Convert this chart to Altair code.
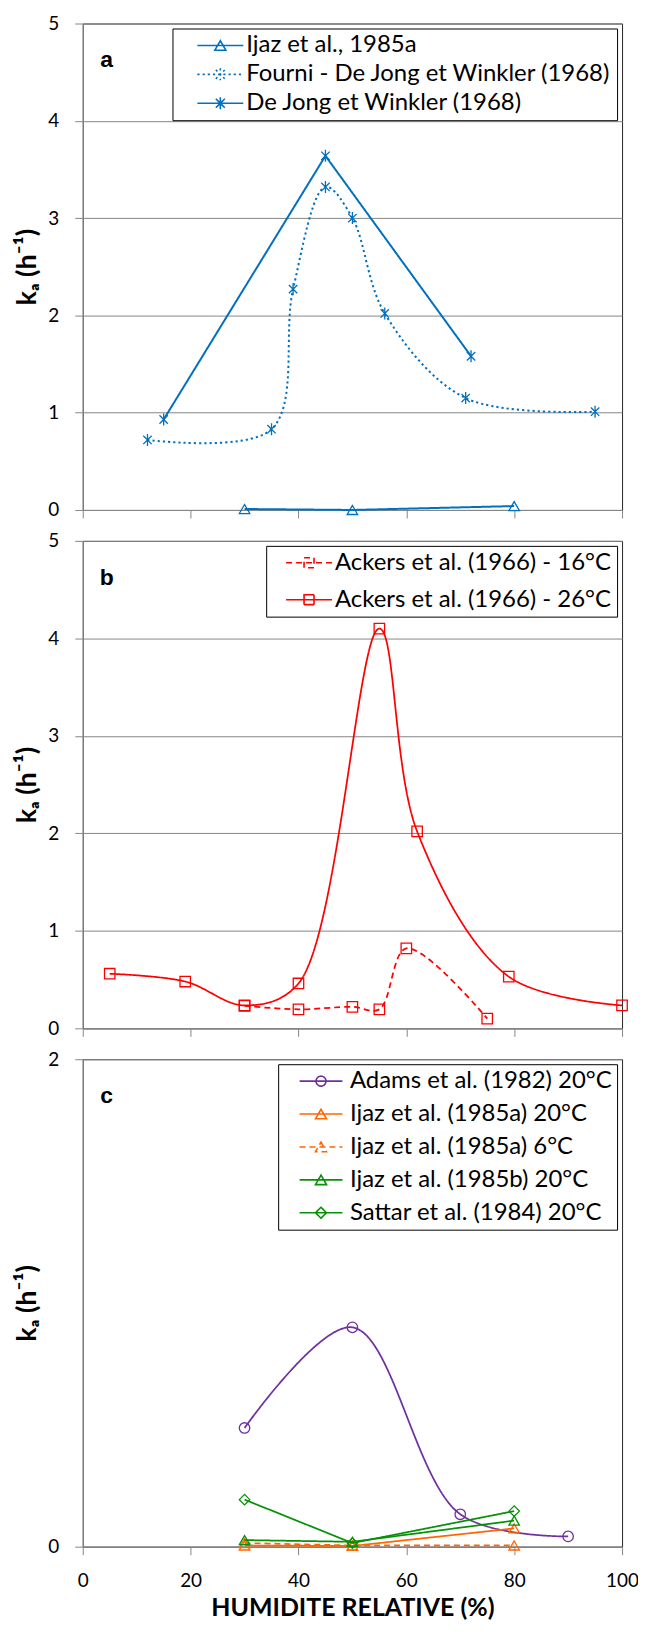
import altair as alt
import pandas as pd

FONT = "Lato"
X_TICKS = [0, 20, 40, 60, 80, 100]
Y_TITLE = "kₐ (h⁻¹)"
X_TITLE = "HUMIDITE RELATIVE (%)"
PANEL_LABELS = ["a", "b", "c"]

# ---------------- Panel a ----------------
A_SERIES = ["Ijaz et al., 1985a",
            "Fourni - De Jong et Winkler (1968)",
            "De Jong et Winkler (1968)"]
A_IJAZ_X = [30, 50, 80]
A_IJAZ_Y = [0.01, 0.0, 0.04]
A_FOURNI_X = [12, 35, 39, 45, 50, 56, 71, 95]
A_FOURNI_Y = [0.72, 0.83, 2.27, 3.32, 3.0, 2.02, 1.15, 1.01]
A_DEJONG_X = [15, 45, 72]
A_DEJONG_Y = [0.93, 3.64, 1.58]
A_YTICKS = [0, 1, 2, 3, 4, 5]

# ---------------- Panel b ----------------
B_SERIES = ["Ackers et al. (1966) - 16°C",
            "Ackers et al. (1966) - 26°C"]
B_16_X = [30, 40, 50, 55, 60, 75]
B_16_Y = [0.23, 0.195, 0.22, 0.195, 0.82, 0.10]
B_26_X = [5, 19, 30, 40, 55, 62, 79, 100]
B_26_Y = [0.56, 0.48, 0.235, 0.46, 4.10, 2.02, 0.53, 0.235]
B_YTICKS = [0, 1, 2, 3, 4, 5]

# ---------------- Panel c ----------------
C_SERIES = ["Adams et al. (1982) 20°C",
            "Ijaz et al. (1985a) 20°C",
            "Ijaz et al. (1985a) 6°C",
            "Ijaz et al. (1985b) 20°C",
            "Sattar et al. (1984) 20°C"]
C_ADAMS_X = [30, 50, 70, 90]
C_ADAMS_Y = [0.487, 0.90, 0.133, 0.042]
C_IJAZA20_X = [30, 50, 80]
C_IJAZA20_Y = [0.005, 0.003, 0.075]
C_IJAZA6_X = [30, 50, 80]
C_IJAZA6_Y = [0.015, 0.005, 0.005]
C_IJAZB20_X = [30, 50, 80]
C_IJAZB20_Y = [0.027, 0.02, 0.107]
C_SATTAR_X = [30, 50, 80]
C_SATTAR_Y = [0.193, 0.015, 0.146]
C_YTICKS = [0, 1, 2]

# ---------------- styles ----------------
BLUE = "#0070C0"
RED = "#FF0000"
PURPLE = "#7030A0"
ORANGE = "#FF6600"
GREEN = "#079107"
SOLID = [1, 0]
DOT = [2.2, 3]
DASH = [6, 4]

STAR = "M-0.8,-0.8L0.8,0.8M-0.8,0.8L0.8,-0.8M0,-1.15V1.15"
MARK_SHAPE = {"tri": "triangle-up", "star": STAR, "square": "square",
              "circle": "circle", "diamond": "diamond"}


def leg_path(marker, half):
    line = f"M-{half},0H{half}"
    shapes = {
        "tri": "M0,-0.95L1.1,0.95H-1.1Z",
        "star": "M-0.9,-0.9L0.9,0.9M-0.9,0.9L0.9,-0.9M0,-1.2V1.2",
        "square": "M-1,-1H1V1H-1Z",
        "circle": "M1,0A1,1 0 1,1 -1,0A1,1 0 1,1 1,0",
        "diamond": "M0,-1.1L1.1,0L0,1.1L-1.1,0Z",
    }
    return line + shapes[marker]


def build_df(series, xs, ys):
    rows = []
    for name, xv, yv in zip(series, xs, ys):
        for i, (x, y) in enumerate(zip(xv, yv)):
            rows.append({"series": name, "x": x, "y": y, "order": i})
    return pd.DataFrame(rows)


def panel(df, series, colors, dashes, markers, smooth, half, ymax, yticks,
          letter, show_x, height, so, lo, rp, line_w):
    xs = alt.Scale(domain=[0, 100], nice=False, zero=False)
    ys = alt.Scale(domain=[0, ymax], nice=False, zero=False)
    x_axis = alt.Axis(values=X_TICKS, labels=show_x, grid=False,
                      title=X_TITLE if show_x else None, format="d")
    y_axis = alt.Axis(values=yticks, grid=True, title=Y_TITLE, format="d")
    X = alt.X("x:Q", scale=xs, axis=x_axis)
    Y = alt.Y("y:Q", scale=ys, axis=y_axis)
    base = alt.Chart(df)
    layers = []
    for name, col, dash, mk, sm in zip(series, colors, dashes, markers,
                                       smooth):
        sub = base.transform_filter(alt.datum.series == name)
        layers.append(
            sub.mark_line(interpolate="catmull-rom" if sm else "linear",
                          strokeWidth=line_w, color=col, strokeDash=dash)
            .encode(x=X, y=Y, order="order:Q"))
        layers.append(
            sub.mark_point(filled=False, strokeWidth=1.3, opacity=1,
                           size=110, color=col, shape=MARK_SHAPE[mk])
            .encode(x=X, y=Y))
    leg = alt.Legend(title=None, orient="top-right", offset=5,
                     strokeColor="black", fillColor="white", padding=5,
                     labelFont=FONT, labelFontSize=24, labelColor="black",
                     symbolSize=100, symbolStrokeWidth=1.6,
                     symbolOffset=so, labelOffset=lo, rowPadding=rp,
                     labelLimit=800, labelExpr="datum.label + '   '")
    cs = alt.Scale(domain=series, range=colors)
    ds = alt.Scale(domain=series, range=dashes)
    ss = alt.Scale(domain=series, range=[leg_path(m, half) for m in markers])
    layers.append(
        base.transform_filter("false")
        .mark_point(filled=False, opacity=1)
        .encode(x=X, y=Y,
                color=alt.Color("series:N", scale=cs, legend=leg),
                shape=alt.Shape("series:N", scale=ss, legend=leg),
                strokeDash=alt.StrokeDash("series:N", scale=ds, legend=leg)))
    layers.append(
        alt.Chart(pd.DataFrame({"t": [letter]}))
        .mark_text(font="Liberation Sans", fontSize=23, fontWeight="bold",
                   align="center", baseline="middle", color="black")
        .encode(text="t:N", x=alt.value(24), y=alt.value(37)))
    return alt.layer(*layers).properties(width=541, height=height)


df_a = build_df(A_SERIES, [A_IJAZ_X, A_FOURNI_X, A_DEJONG_X],
                [A_IJAZ_Y, A_FOURNI_Y, A_DEJONG_Y])
df_b = build_df(B_SERIES, [B_16_X, B_26_X], [B_16_Y, B_26_Y])
df_c = build_df(C_SERIES,
                [C_ADAMS_X, C_IJAZA20_X, C_IJAZA6_X, C_IJAZB20_X, C_SATTAR_X],
                [C_ADAMS_Y, C_IJAZA20_Y, C_IJAZA6_Y, C_IJAZB20_Y, C_SATTAR_Y])

pa = panel(df_a, A_SERIES, [BLUE, BLUE, BLUE], [SOLID, DOT, SOLID],
           ["tri", "star", "star"], [False, True, False], 4.6, 5, A_YTICKS,
           PANEL_LABELS[0], False, 488, 31, 14, 5, 2)
pb = panel(df_b, B_SERIES, [RED, RED], [DASH, SOLID], ["square", "square"],
           [True, True], 4.6, 5, B_YTICKS, PANEL_LABELS[1], False, 489,
           26, 14, 13, 1.75)
pc = panel(df_c, C_SERIES, [PURPLE, ORANGE, ORANGE, GREEN, GREEN],
           [SOLID, SOLID, DASH, SOLID, SOLID],
           ["circle", "tri", "tri", "tri", "diamond"],
           [True, False, False, False, False], 4.3, 2, C_YTICKS,
           PANEL_LABELS[2], True, 489, 26, 17, 9, 1.75)

chart = alt.vconcat(pa, pb, pc, spacing=31, bounds="flush").resolve_scale(
    color="independent", shape="independent", strokeDash="independent"
).resolve_legend(
    color="independent", shape="independent", strokeDash="independent"
).properties(
    padding={"left": 5, "top": 3, "right": -2, "bottom": -1}
).configure(font=FONT).configure_view(
    stroke="#262626", strokeWidth=1
).configure_axis(
    domainColor="#868686", tickColor="#868686", gridColor="#868686",
    labelColor="black", labelFont=FONT, labelFontSize=19,
    titleFont=FONT, titleFontWeight="bold",
    titleColor="black", tickSize=8, labelFlush=False, labelOverlap=False,
    domainWidth=1, gridWidth=1
).configure_axisY(labelPadding=16, titlePadding=6,
                  titleFontSize=27).configure_axisX(
    labelPadding=17, titlePadding=5, titleFontSize=25)

chart.save("out.html", embed_options={"renderer": "svg", "actions": False})
